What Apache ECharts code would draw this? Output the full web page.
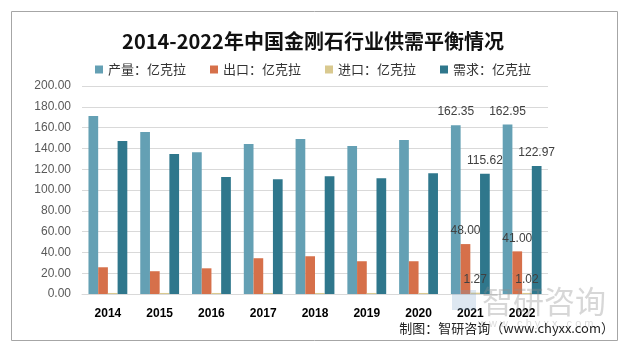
<!DOCTYPE html>
<html><head><meta charset="utf-8">
<script src="https://cdn.jsdelivr.net/npm/echarts@6/dist/echarts.min.js"></script>
<style>html,body{margin:0;padding:0;background:#fff}#c{width:626px;height:349px}</style>
</head><body><div id="c"></div>
<script>
var years = ['2014','2015','2016','2017','2018','2019','2020','2021','2022'];
var production = [171.1, 155.7, 136.4, 144.2, 149.0, 142.2, 148.0, 162.35, 162.95];
var exportVals = [25.7, 21.9, 24.7, 34.4, 36.3, 31.5, 31.5, 48.00, 41.00];
var importVals = [1.0, 1.0, 1.0, 1.0, 1.0, 1.0, 1.0, 1.27, 1.02];
var demand = [147.0, 134.5, 112.4, 110.4, 113.3, 111.4, 116.2, 115.62, 122.97];
var seriesNames = ['产量：亿克拉','出口：亿克拉','进口：亿克拉','需求：亿克拉'];
var colors = ['#64a0b4','#d6704a','#d9c98f','#2f778c'];
var labelFrom = 7;

var chart = echarts.init(document.getElementById('c'), null, {renderer:'canvas'});
function mk(name, vals, color){
  return {
    name: name, type: 'bar', barGap: '0%', barCategoryGap: '25%',
    itemStyle: {color: color},
    data: vals.map(function(v, i){
      return i >= labelFrom ? {value: v, label: {show: true}} : {value: v};
    }),
    label: {show: false, position: 'top', distance: 7, color: '#404040', fontSize: 12,
      fontFamily: 'Liberation Sans, Arial, sans-serif',
      formatter: function(p){ return p.value.toFixed(2); }}
  };
}
var font = '"Noto Sans CJK SC", sans-serif';
chart.setOption({
  animation: false,
  color: colors,
  title: {text: '2014-2022年中国金刚石行业供需平衡情况', left: 'center', top: 26,
    textStyle: {fontSize: 20, fontWeight: 'bold', color: '#111', fontFamily: font}},
  legend: {top: 58, left: 'center', itemWidth: 8, itemHeight: 8, itemGap: 24,
    icon: 'rect', textStyle: {fontSize: 13, color: '#333', fontFamily: font},
    data: seriesNames},
  grid: {left: 82, right: 78, top: 86, bottom: 55, containLabel: false},
  xAxis: {type: 'category', data: years,
    axisLine: {lineStyle: {color: '#d9d9d9'}}, axisTick: {show: false},
    axisLabel: {color: '#000', fontWeight: 'bold', fontSize: 12, margin: 14,
      fontFamily: 'Liberation Sans, Arial, sans-serif'}},
  yAxis: {type: 'value', min: 0, max: 200, interval: 20,
    axisLine: {show: false}, axisTick: {show: false},
    splitLine: {lineStyle: {color: '#d9d9d9'}},
    axisLabel: {color: '#595959', fontSize: 12, margin: 11,
      fontFamily: 'Liberation Sans, Arial, sans-serif',
      formatter: function(v){ return v.toFixed(2); }}},
  graphic: [
    {type: 'rect', shape: {x: 11.5, y: 11.5, width: 606, height: 329},
      style: {fill: 'none', stroke: '#a6a6a6', lineWidth: 1}, silent: true, z: -10},
    {type: 'text', left: 482, top: 286, z: 100, silent: true,
      style: {text: '智研咨询', fontSize: 31, fill: 'rgba(140,140,140,0.35)', fontFamily: font}},
    {type: 'rect', shape: {x: 452, y: 290, width: 24, height: 20}, z: 100, silent: true,
      style: {fill: 'rgba(120,160,200,0.25)'}},
    {type: 'text', left: 478, top: 318, z: 100, silent: true,
      style: {text: 'w w w . c h y x x . c o m', fontSize: 11, fill: 'rgba(140,140,140,0.3)', fontFamily: 'Liberation Sans, sans-serif'}},
    {type: 'text', right: 12, top: 322, z: 101, silent: true,
      style: {text: '制图：智研咨询（www.chyxx.com）', fontSize: 13, fill: '#222', fontFamily: font}}
  ],
  series: [
    mk(seriesNames[0], production, colors[0]),
    mk(seriesNames[1], exportVals, colors[1]),
    mk(seriesNames[2], importVals, colors[2]),
    mk(seriesNames[3], demand, colors[3])
  ]
});
</script></body></html>
